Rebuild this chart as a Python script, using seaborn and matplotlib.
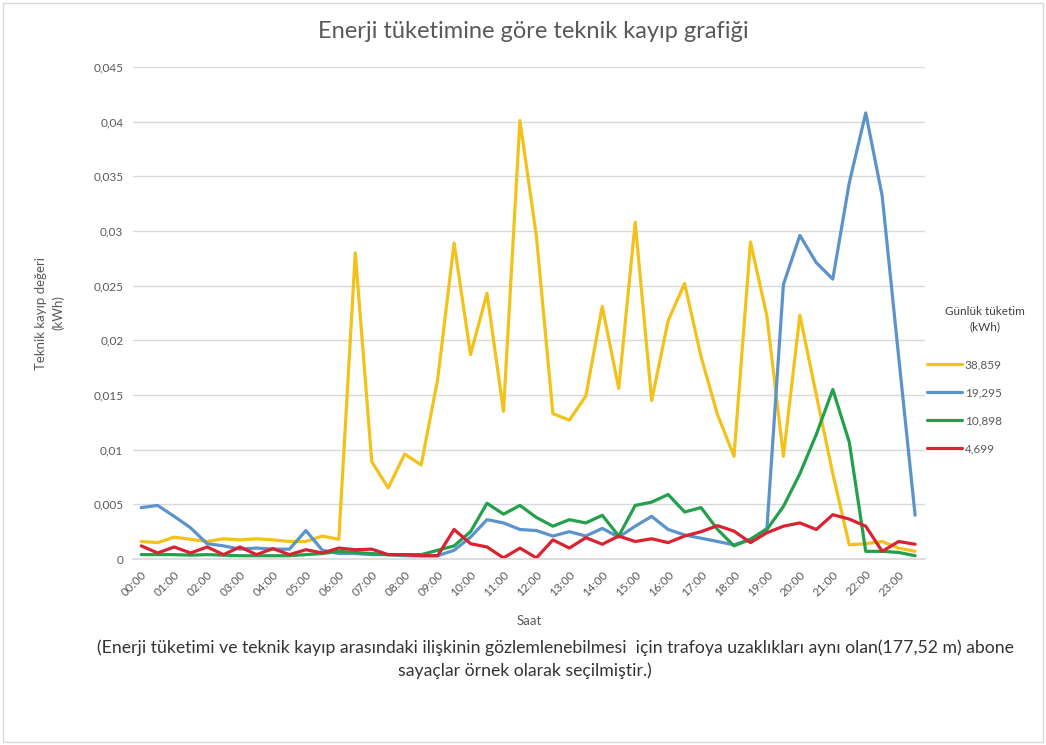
import matplotlib
matplotlib.use("Agg")
import matplotlib.pyplot as plt
import matplotlib.patches as mpatches
import numpy as np
import pandas as pd
import seaborn as sns

# Half-hour time slots (00:00 ... 23:30); every full hour is labelled
saat = [f"{h:02d}:{m:02d}" for h in range(24) for m in (0, 30)]
saat_etiketleri = [f"{h:02d}:00" for h in range(24)]

seri_adlari = ["38,859", "19,295", "10,898", "4,699"]

kayip_38859 = [0.0016, 0.0015, 0.0020, 0.0018, 0.0016, 0.00185, 0.00175, 0.00185,
               0.00175, 0.0016, 0.0016, 0.0021, 0.0018, 0.0280, 0.0089, 0.0065,
               0.0096, 0.0086, 0.0164, 0.0289, 0.0187, 0.0243, 0.0135, 0.0401,
               0.0295, 0.0133, 0.0127, 0.0149, 0.0231, 0.0156, 0.0308, 0.0145,
               0.0218, 0.0252, 0.0185, 0.0132, 0.0094, 0.0290, 0.0222, 0.0094,
               0.0223, 0.0150, 0.0078, 0.0013, 0.0014, 0.0016, 0.0010, 0.0007]

kayip_19295 = [0.0047, 0.0049, 0.0039, 0.00285, 0.0014, 0.0012, 0.0009, 0.0010,
               0.0009, 0.0009, 0.0026, 0.0008, 0.0005, 0.0005, 0.0004, 0.0004,
               0.0003, 0.0003, 0.0003, 0.0008, 0.0020, 0.0036, 0.0033, 0.0027,
               0.0026, 0.0021, 0.0025, 0.0021, 0.0028, 0.0020, 0.0030, 0.0039,
               0.0027, 0.0022, 0.0019, 0.0016, 0.0013, 0.0018, 0.0028, 0.0251,
               0.0296, 0.0271, 0.0256, 0.0344, 0.0408, 0.0332, 0.0185, 0.0040]

kayip_10898 = [0.0004, 0.0004, 0.0004, 0.00035, 0.0004, 0.00035, 0.0003, 0.0003,
               0.0003, 0.0003, 0.0004, 0.0005, 0.0007, 0.0006, 0.0005, 0.0004,
               0.0004, 0.0004, 0.0008, 0.0012, 0.0025, 0.0051, 0.0041, 0.0049,
               0.0038, 0.0030, 0.0036, 0.0033, 0.0040, 0.0021, 0.0049, 0.0052,
               0.0059, 0.0043, 0.0047, 0.0027, 0.0012, 0.0018, 0.0027, 0.0048,
               0.0078, 0.0114, 0.0155, 0.0107, 0.0007, 0.0007, 0.0006, 0.0003]

kayip_4699 = [0.0012, 0.00055, 0.0011, 0.00055, 0.0011, 0.0004, 0.0011, 0.0004,
              0.00095, 0.0004, 0.00085, 0.00055, 0.0010, 0.00085, 0.0009, 0.0004,
              0.0004, 0.0003, 0.0003, 0.0027, 0.0014, 0.0011, 0.0001, 0.0010,
              0.0001, 0.00175, 0.0010, 0.00195, 0.00135, 0.0021, 0.0016, 0.00185,
              0.0015, 0.0021, 0.0025, 0.00305, 0.00255, 0.0015, 0.0024, 0.0030,
              0.0033, 0.0027, 0.00405, 0.00365, 0.0030, 0.0007, 0.0016, 0.00135]

y_ticks = [0, 0.005, 0.01, 0.015, 0.02, 0.025, 0.03, 0.035, 0.04, 0.045]
y_tick_labels = ["0", "0,005", "0,01", "0,015", "0,02", "0,025", "0,03", "0,035", "0,04", "0,045"]

renkler = ["#F2C11A", "#5B93CC", "#22A04B", "#DA2230"]

# Long-form table for seaborn
df = pd.concat(
    [pd.DataFrame({"sira": np.arange(len(saat)), "saat": saat, "kayip": v, "seri": ad})
     for ad, v in zip(seri_adlari, [kayip_38859, kayip_19295, kayip_10898, kayip_4699])],
    ignore_index=True,
)

sns.set_theme(style="white")
plt.rcParams["font.family"] = ["Lato", "DejaVu Sans"]

metin = "#595959"
fig = plt.figure(figsize=(10.46, 7.45), dpi=100)
ax = fig.add_axes([133 / 1046, 1 - 559 / 745, (925 - 133) / 1046, (559 - 67) / 745])

sns.lineplot(data=df, x="sira", y="kayip", hue="seri", hue_order=seri_adlari,
             palette=renkler, linewidth=2.3, ax=ax, legend=True)

ax.set_ylim(0, 0.045)
ax.set_xlim(-0.5, 47.6)
ax.set_yticks(y_ticks)
ax.set_yticklabels(y_tick_labels, fontsize=8.5, color=metin)
ax.set_xticks(np.arange(0, len(saat), 2))
ax.set_xticklabels(saat_etiketleri, rotation=45, ha="right", rotation_mode="anchor",
                   fontsize=8.5, color=metin)
ax.tick_params(axis="both", length=0, pad=7)
ax.grid(axis="y", color="#d9d9d9", linewidth=1)
ax.set_axisbelow(True)
for s in ["top", "right", "left"]:
    ax.spines[s].set_visible(False)
ax.spines["bottom"].set_color("#d9d9d9")

ax.set_xlabel("Saat", fontsize=9.5, color=metin, labelpad=12)
ax.set_ylabel("Teknik kayıp değeri\n(kWh)", fontsize=9.5, color=metin, labelpad=21,
              linespacing=1.4)

# Legend rebuilt on the right side of the figure, title drawn separately
eski = ax.get_legend()
handles = eski.legend_handles
labels = [t.get_text() for t in eski.get_texts()]
eski.remove()
leg = ax.legend(handles, labels, loc="upper left",
                bbox_to_anchor=(927 / 1046, 1 - 359 / 745), bbox_transform=fig.transFigure,
                frameon=False, fontsize=8.5, handlelength=3.0,
                handletextpad=0.2, labelspacing=1.45, borderaxespad=0, borderpad=0)
for t in leg.get_texts():
    t.set_color(metin)
for h in leg.legend_handles:
    h.set_linewidth(2.3)

fig.text(985 / 1046, 1 - 319 / 745, "Günlük tüketim\n(kWh)", ha="center", va="center",
         fontsize=8.5, color="#404040", linespacing=1.5)

fig.text(533 / 1046, 1 - 32 / 745, "Enerji tüketimine göre teknik kayıp grafiği",
         ha="center", va="center", fontsize=17, color=metin)

fig.text(555 / 1046, 1 - 648 / 745,
         "(Enerji tüketimi ve teknik kayıp arasındaki ilişkinin gözlemlenebilmesi  için trafoya "
         "uzaklıkları aynı olan(177,52 m) abone",
         ha="center", va="center", fontsize=12.7, color="#333333")
fig.text(525 / 1046, 1 - 671 / 745, "sayaçlar örnek olarak seçilmiştir.)",
         ha="center", va="center", fontsize=12.7, color="#333333")

fig.patches.append(mpatches.Rectangle((3 / 1046, 3 / 745), 1040 / 1046, 739 / 745,
                                      transform=fig.transFigure, fill=False,
                                      edgecolor="#d9d9d9", linewidth=1))

fig.savefig("out.png", dpi=100, facecolor="white")
